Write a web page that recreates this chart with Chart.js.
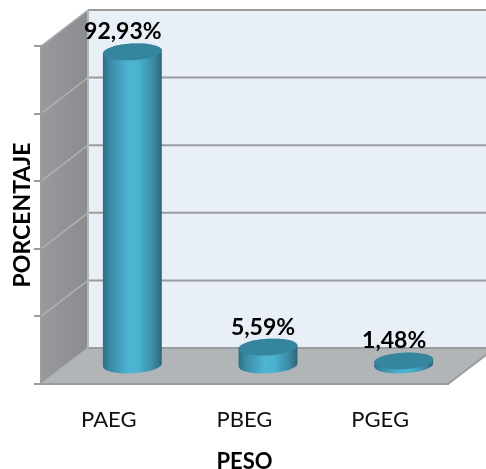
<!DOCTYPE html>
<html><head><meta charset="utf-8">
<style>html,body{margin:0;padding:0;background:#fff}#w{width:486px;height:469px;position:relative}</style>
<script src="https://cdn.jsdelivr.net/npm/chart.js@4/dist/chart.umd.js"></script>
</head><body><div id="w"><canvas id="c"></canvas></div>
<script>
const categories = ['PAEG','PBEG','PGEG'];
const values = [92.93,5.59,1.48];
const yTicks = [0,20,40,60,80,100];
const labelShift = [14,18.5,14];
const DX = 47, DY = 36, BX = 23.5, BY = 18;
const GRID = '#9a9c9e';
const FONT = 'Lato, "Open Sans", sans-serif';

const BarEl = Chart.registry.getElement('bar');
BarEl.prototype.draw = function(ctx){
  const cx = this.x + BX, top = this.y - BY, base = this.base - BY;
  const rx = 29.5, ry = 8.3, rot = -0.055;
  const g = ctx.createLinearGradient(cx-rx,0,cx+rx,0);
  g.addColorStop(0,'#2d6f86'); g.addColorStop(0.12,'#3a8aa5');
  g.addColorStop(0.45,'#4db6d4'); g.addColorStop(0.62,'#4ab0cd');
  g.addColorStop(0.85,'#3b8ba5'); g.addColorStop(1,'#2c6577');
  ctx.save();
  ctx.fillStyle = g;
  ctx.beginPath();
  ctx.ellipse(cx,top,rx,ry,rot,Math.PI,0,false);
  ctx.ellipse(cx,base,rx,ry,rot,0,Math.PI,false);
  ctx.closePath(); ctx.fill();
  ctx.fillStyle = '#35859f';
  ctx.beginPath(); ctx.ellipse(cx,top,rx,ry,rot,0,Math.PI*2); ctx.fill();
  ctx.restore();
};

const frame3d = {
  id:'frame3d',
  beforeDraw(chart){
    const {ctx,chartArea:a,scales:{y}} = chart;
    const l=a.left, r=a.right, b=a.bottom, t=a.top, W=chart.width;
    ctx.save();
    ctx.fillStyle='#e8eff6';
    ctx.fillRect(l+DX,t-DY,W-l-DX,b-t);
    const sg=ctx.createLinearGradient(l,0,l+DX,0);
    sg.addColorStop(0,'#97999c'); sg.addColorStop(1,'#8a8c8f');
    ctx.fillStyle=sg;
    ctx.beginPath();ctx.moveTo(l,b);ctx.lineTo(l+DX,b-DY);ctx.lineTo(l+DX,t-DY);ctx.lineTo(l,t);ctx.closePath();ctx.fill();
    ctx.fillStyle='#b2b5b8';
    ctx.beginPath();ctx.moveTo(l,b);ctx.lineTo(l+DX,b-DY);ctx.lineTo(r+DX,b-DY);ctx.lineTo(r,b);ctx.closePath();ctx.fill();
    yTicks.forEach(v=>{
      const p=y.getPixelForValue(v);
      ctx.strokeStyle='#afb1b3'; ctx.lineWidth=1.5;
      ctx.beginPath();ctx.moveTo(l,p);ctx.lineTo(l+DX,p-DY);ctx.stroke();
      ctx.strokeStyle=GRID; ctx.lineWidth=2;
      ctx.beginPath();ctx.moveTo(l+DX,p-DY);ctx.lineTo(W,p-DY);ctx.stroke();
    });
    ctx.strokeStyle='#b4b6b8'; ctx.lineWidth=2;
    ctx.beginPath();ctx.moveTo(l+DX,t-DY);ctx.lineTo(l+DX,b-DY);ctx.stroke();
    ctx.strokeStyle=GRID;
    ctx.beginPath();ctx.moveTo(r,b);ctx.lineTo(r+DX,b-DY);ctx.stroke();
    ctx.restore();
  },
  afterDatasetsDraw(chart){
    const {ctx}=chart; const els=chart.getDatasetMeta(0).data;
    ctx.save();
    ctx.font='bold 23px '+FONT; ctx.fillStyle='#000'; ctx.textAlign='center'; ctx.textBaseline='middle';
    els.forEach((el,i)=>{
      ctx.fillText(values[i].toFixed(2).replace('.',',')+'%', el.x+labelShift[i], el.y-BY-20);
    });
    ctx.restore();
  }
};

new Chart(document.getElementById('c'),{
  type:'bar',
  data:{labels:categories,datasets:[{data:values,backgroundColor:'#4db6d4',clip:false}]},
  plugins:[frame3d],
  options:{
    responsive:true,maintainAspectRatio:false,animation:false,
    layout:{padding:{left:0,right:38,top:46,bottom:0}},
    plugins:{legend:{display:false},tooltip:{enabled:false}},
    scales:{
      x:{
        grid:{display:false},
        border:{display:true,color:GRID,width:2},
        ticks:{color:'#111',font:{family:FONT,size:22},padding:15,maxRotation:0},
        title:{display:true,text:'PESO',color:'#000',font:{family:FONT,size:22,weight:'bold'},padding:{top:0,bottom:-6}},
        afterFit(s){s.height=85;}
      },
      y:{
        min:0,max:100,
        afterBuildTicks(s){s.ticks=yTicks.map(v=>({value:v}));},
        grid:{drawOnChartArea:false,drawTicks:true,tickLength:7,color:GRID,lineWidth:2},
        border:{display:true,color:GRID,width:2},
        ticks:{display:false},
        title:{display:true,text:'PORCENTAJE',color:'#000',font:{family:FONT,size:23,weight:'bold'},padding:{top:9,bottom:0}},
        afterFit(s){s.width=41;}
      }
    }
  }
});
</script></body></html>
